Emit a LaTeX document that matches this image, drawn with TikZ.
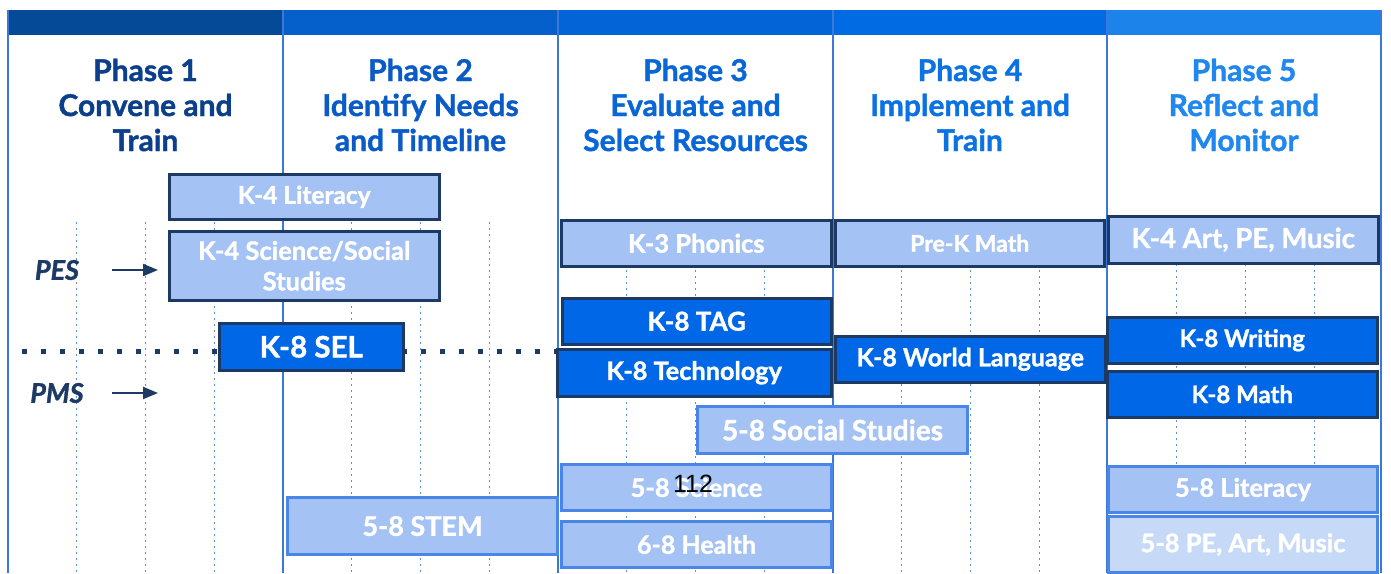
\documentclass[tikz,border=0pt]{standalone}
\usepackage{fontspec}
\setmainfont{Lato}[BoldFeatures={FakeBold=1.3}, BoldItalicFeatures={FakeBold=1.3}]
\newfontfamily\plainfont{Liberation Sans}
\usetikzlibrary{arrows.meta}

\definecolor{hdA}{HTML}{044A97}
\definecolor{hdB}{HTML}{0560CC}
\definecolor{hdC}{HTML}{0364D8}
\definecolor{hdD}{HTML}{006BE3}
\definecolor{hdE}{HTML}{1C83EB}
\definecolor{ttA}{HTML}{0B3F8C}
\definecolor{ttB}{HTML}{0B5BC7}
\definecolor{ttC}{HTML}{0866D6}
\definecolor{ttD}{HTML}{0A72E3}
\definecolor{ttE}{HTML}{1F87EE}
\definecolor{rule}{HTML}{3C78D8}
\definecolor{grid}{HTML}{5B8FE0}
\definecolor{navy}{HTML}{1C3A64}
\definecolor{lblue}{HTML}{A4C2F4}
\definecolor{pale}{HTML}{C6D9F7}
\definecolor{strong}{HTML}{0068E6}
\definecolor{edge}{HTML}{4A86E8}

% a task bar: name, style, x1, y1, x2, y2, label
\newcommand\pbar[7]{\node[#2, minimum width={#5-#3}, minimum height={#6-#4},
  anchor=north west] (#1) at (#3,#4) {#7};}

\begin{document}
\begin{tikzpicture}[x=1pt,y=-1pt,
  fs/.style={font=\fontsize{#1}{#1}\selectfont\bfseries},
  title/.style={align=center, font=\fontsize{30}{35}\selectfont\bfseries},
  barbase/.style={inner sep=0pt, text=white, align=center},
  lightnavy/.style={barbase, fill=lblue, draw=navy, line width=2.5pt},
  lightedge/.style={barbase, fill=lblue, draw=edge, line width=3pt},
  paleedge/.style={barbase, fill=pale, draw=edge, line width=3pt},
  darknavy/.style={barbase, fill=strong, draw=navy, line width=2.5pt},
  gridline/.style={grid, line width=1.3pt, dash pattern=on 1.6pt off 4.4pt},
  school/.style={text=navy, font=\fontsize{27}{27}\selectfont\bfseries\itshape},
  pointer/.style={navy, line width=2pt, -{Triangle[length=15pt,width=12pt]}}]

\useasboundingbox (0,0) rectangle (1391,573);
\fill[white] (0,0) rectangle (1391,573);

% header band
\fill[hdA] (8,10) rectangle (283,35);
\fill[hdB] (283,10) rectangle (558,35);
\fill[hdC] (558,10) rectangle (833,35);
\fill[hdD] (833,10) rectangle (1107,35);
\fill[hdE] (1107,10) rectangle (1381,35);

% quarter grid lines inside each phase column
\foreach \c in {0,...,4}
  \foreach \k in {1,2,3}
    \draw[gridline] ({8+275*\c+68.75*\k},222) -- ({8+275*\c+68.75*\k},573);

% phase column rules
\foreach \x in {8,283,558,833,1107,1381}
  \draw[rule, line width=2pt] (\x,10) -- (\x,573);

% phase titles
\node[title, text=ttA] (p1) at (145.5,105) {Phase 1\\Convene and\\Train};
\node[title, text=ttB] (p2) at (420.5,105) {Phase 2\\Identify Needs\\and Timeline};
\node[title, text=ttC] (p3) at (695.5,105) {Phase 3\\Evaluate and\\Select Resources};
\node[title, text=ttD] (p4) at (970,105) {Phase 4\\Implement and\\Train};
\node[title, text=ttE] (p5) at (1244,105) {Phase 5\\Reflect and\\Monitor};

% divider between the two schools
\coordinate (divL) at (22,351);
\coordinate (divR) at (556,351);
\draw[navy, line width=5pt, dash pattern=on 5pt off 14pt] (divL) -- (divR);

% school labels
\node[school] (pes) at (57,270) {PES};
\node[school] (pms) at (57,393) {PMS};
\coordinate (pesA) at (112,270);
\coordinate (pesB) at (158,270);
\coordinate (pmsA) at (112,393);
\coordinate (pmsB) at (158,393);
\draw[pointer] (pesA) -- (pesB);
\draw[pointer] (pmsA) -- (pmsB);

% task bars
\pbar{litK}{lightnavy, fs=24.5}{168}{173}{438}{218}{K-4 Literacy}
\pbar{sciK}{lightnavy, fs=25.5}{168}{230}{438}{299}{K-4 Science/Social\\[5pt]Studies}
\pbar{sel}{darknavy, fs=29.5}{218}{322}{402}{369}{K-8 SEL}
\pbar{stem}{lightedge, fs=27}{286}{496}{556}{553}{5-8 STEM}

\pbar{phon}{lightnavy, fs=25.5}{560}{219}{830}{265}{K-3 Phonics}
\pbar{tag}{darknavy, fs=26}{561}{297}{830}{343}{K-8 TAG}
\pbar{tech}{darknavy, fs=25.3}{556}{348}{830}{395}{K-8 Technology}
\pbar{socs}{lightedge, fs=28}{696}{405}{966}{452}{5-8 Social Studies}
\pbar{scie}{lightedge, fs=25.5}{560}{463}{830}{509}{5-8 Science}
\pbar{hlth}{lightedge, fs=25}{560}{520}{830}{566}{6-8 Health}

\pbar{prek}{lightnavy, fs=23}{834}{219}{1103}{265}{Pre-K Math}
\pbar{wlang}{darknavy, fs=25}{834}{335}{1104}{381}{K-8 World Language}

\pbar{artK}{lightnavy, fs=27.5}{1107}{215}{1377}{262}{K-4 Art, PE, Music}
\pbar{writ}{darknavy, fs=24}{1106}{316}{1376}{362}{K-8 Writing}
\pbar{mathK}{darknavy, fs=24}{1106}{370}{1376}{416}{K-8 Math}
\pbar{litM}{lightedge, fs=25.5}{1107}{465}{1376}{511}{5-8 Literacy}
\pbar{artM}{paleedge, fs=25.5}{1107}{515}{1376}{571}{5-8 PE, Art, Music}

% page number
\node[font=\plainfont\fontsize{25}{25}\selectfont, text=black] (pg) at (693,484) {112};

\end{tikzpicture}
\end{document}
